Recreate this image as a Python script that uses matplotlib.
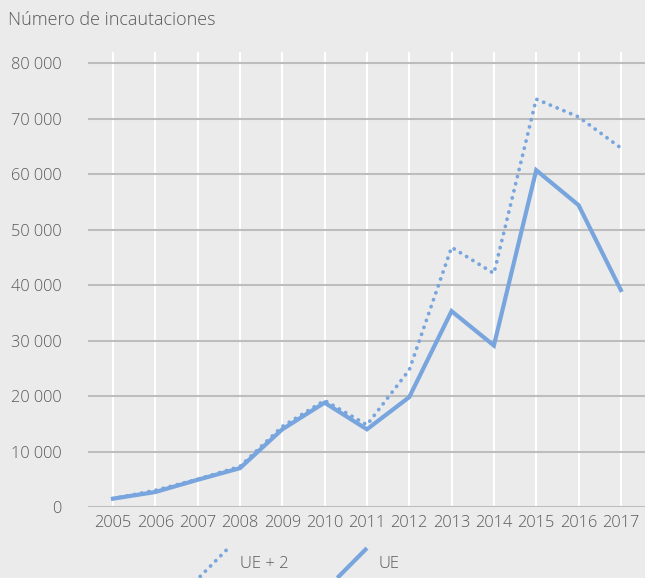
import matplotlib.pyplot as plt
from matplotlib.lines import Line2D
from matplotlib.legend_handler import HandlerLine2D
from matplotlib.ticker import FuncFormatter

years = list(range(2005, 2018))
ue = [1500, 2700, 4900, 7000, 14000, 18800, 14000, 19800, 35300, 29100, 60700, 54400, 39100]
ue_plus2 = [1500, 3000, 5000, 7300, 14500, 19200, 14800, 24700, 46800, 42100, 73500, 70300, 64700]
yticks = [0, 10000, 20000, 30000, 40000, 50000, 60000, 70000, 80000]

BG = '#ebebeb'
LINE = '#78a5dd'
TXT = '#595959'

plt.rcParams['font.family'] = ['Open Sans', 'DejaVu Sans']
plt.rcParams['font.weight'] = 'light'


class DiagHandler(HandlerLine2D):
    """Legend key drawn as a rising diagonal line."""
    def create_artists(self, legend, orig_handle, xdescent, ydescent,
                       width, height, fontsize, trans):
        x0, y0 = -xdescent, -ydescent
        line = Line2D([x0, x0 + width], [y0, y0 + height])
        self.update_prop(line, orig_handle, legend)
        line.set_transform(trans)
        return [line]


fig = plt.figure(figsize=(6.45, 5.78), dpi=100, facecolor=BG)
ax = fig.add_axes([88 / 645, 1 - 507 / 578, 1 - 88 / 645, (507 - 52) / 578])
ax.set_facecolor(BG)

l2, = ax.plot(years, ue_plus2, color=LINE, lw=2.7, linestyle=(0, (0.05, 1.9)),
              dash_capstyle='round', label='UE + 2', zorder=3)
l1, = ax.plot(years, ue, color=LINE, lw=3.0, solid_joinstyle='miter',
              label='UE', zorder=4)

ax.set_xlim(2004.41, 2017.57)
ax.set_ylim(0, 82000)
ax.set_xticks(years)
ax.set_yticks(yticks)
ax.yaxis.set_major_formatter(FuncFormatter(lambda v, p: f'{int(v):,}'.replace(',', ' ')))

for y in yticks:
    ax.axhline(y, color='#bdbdbd', lw=1.5, zorder=2)
for x in years:
    ax.axvline(x, color='white', lw=1.5, zorder=1)

for s in ax.spines.values():
    s.set_visible(False)
ax.tick_params(length=0, labelsize=11.8, colors=TXT)
ax.tick_params(axis='y', pad=19)
ax.tick_params(axis='x', pad=6)

fig.text(8 / 645, 1 - 20 / 578, 'Número de incautaciones', fontsize=13,
         color=TXT, va='center', ha='left')

leg = fig.legend(handles=[l2, l1], loc='center', bbox_to_anchor=(300 / 645, 1 - 563 / 578),
                 ncol=2, frameon=False, fontsize=12, labelcolor=TXT,
                 handlelength=1.6, handleheight=2.1, columnspacing=3.0, handletextpad=0.8,
                 handler_map={Line2D: DiagHandler()})

fig.savefig('out.png', dpi=100, facecolor=BG)
